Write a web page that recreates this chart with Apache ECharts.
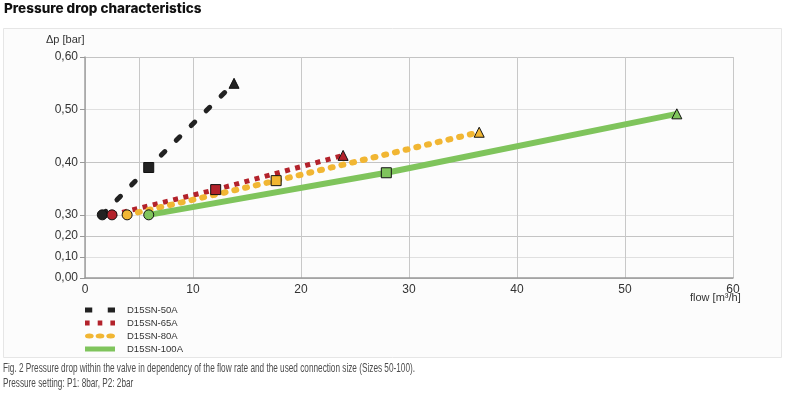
<!DOCTYPE html>
<html lang="en">

<head>
    <meta charset="UTF-8">
    <title>Pressure drop characteristics</title>
    <style>
        body { margin: 0; background: #fff; }
    </style>
</head>

<body>
    <div id="main" style="width: 800px; height:397px"></div>
    <script src="https://cdn.jsdelivr.net/npm/echarts@6/dist/echarts.min.js"></script>
    <script type="text/javascript">
        // data (flow in m3/h, dp in bar)
        var names = ['D15SN-50A', 'D15SN-65A', 'D15SN-80A', 'D15SN-100A'];
        var flow50 = [1.6, 5.9, 13.8];
        var dp50 = [0.30, 0.39, 0.55];
        var flow65 = [2.5, 12.1, 23.9];
        var dp65 = [0.30, 0.348, 0.413];
        var flow80 = [3.9, 17.7, 36.5];
        var dp80 = [0.30, 0.365, 0.457];
        var flow100 = [5.9, 27.9, 54.8];
        var dp100 = [0.30, 0.38, 0.492];
        var markers = ['circle', 'rect', 'triangle'];
        var yTicks = [0.00, 0.10, 0.20, 0.30, 0.40, 0.50, 0.60];
        var xTicks = [0, 10, 20, 30, 40, 50, 60];

        var FONT = '"Liberation Sans", Arial, sans-serif';

        // the y axis is broken: 0..0.30 squeezed to 40%
        var BREAK = 0.30, SQUEEZE = 0.4;
        function toAxis(v) {
            return v <= BREAK ? v * SQUEEZE : BREAK * SQUEEZE + (v - BREAK);
        }
        function fromAxis(d) {
            return d <= BREAK * SQUEEZE ? d / SQUEEZE : d - BREAK * SQUEEZE + BREAK;
        }

        function pts(xs, ys) {
            return xs.map(function (x, i) {
                return { value: [x, toAxis(ys[i])], symbol: markers[i] };
            });
        }

        var yTickPos = yTicks.map(function (v) { return +toAxis(v).toFixed(4); });
        // grid line colours: darker at labelled values
        var hColors = [];
        for (var k = 0; k <= 21; k++) {
            var major = yTickPos.some(function (p) { return Math.abs(p - k * 0.02) < 1e-6; });
            hColors.push(major ? '#c4c4c4' : '#e0e0e0');
        }
        var vColors = [];
        for (var j = 0; j <= 12; j++) {
            vColors.push(j % 2 === 0 || j === 1 ? '#c8c8c8' : 'rgba(0,0,0,0)');
        }

        // caption uses a narrow face; squeeze a normal one to the same width
        var capFont = '13px ' + FONT;
        var cap1 = 'Fig. 2 Pressure drop within the valve in dependency of the flow rate and the used connection size (Sizes 50-100).';
        var cap2 = 'Pressure setting: P1: 8bar, P2: 2bar';
        var ctx = document.createElement('canvas').getContext('2d');
        ctx.font = capFont;
        var capScale = 412 / ctx.measureText(cap1).width;

        var myChart = echarts.init(document.getElementById('main'));
        var mk = { borderColor: '#111', borderWidth: 1 };

        option = {
            animation: false,
            textStyle: { fontFamily: FONT },
            grid: { left: 85, right: 67, top: 57, bottom: 119 },
            graphic: {
                elements: [
                    { type: 'rect', z: -10, shape: { x: 3.5, y: 28.5, width: 778, height: 329 },
                      style: { fill: '#fcfcfc', stroke: '#e6e6e6', lineWidth: 1 } },
                    { type: 'text', left: 4, top: 2,
                      style: { text: 'Pressure drop characteristics', font: '800 13.5px Inter, "Open Sans", sans-serif', fill: '#111' } },
                    { type: 'text', left: 46, top: 34,
                      style: { text: '\u0394p [bar]', font: '11px ' + FONT, fill: '#333' } },
                    { type: 'text', left: 690, top: 292,
                      style: { text: 'flow [m\u00b3/h]', font: '11px ' + FONT, fill: '#333' } },
                    { type: 'text', x: 3, y: 362, scaleX: capScale,
                      style: { text: cap1, font: capFont, fill: '#4d4d4d' } },
                    { type: 'text', x: 3, y: 377, scaleX: capScale,
                      style: { text: cap2, font: capFont, fill: '#4d4d4d' } }
                ]
            },
            legend: {
                orient: 'vertical',
                left: 85,
                top: 305,
                padding: 0,
                itemWidth: 30,
                itemHeight: 5,
                itemGap: 3,
                symbolKeepAspect: false,
                textStyle: { fontSize: 9.5, color: '#333', padding: [0, 0, 0, 7], fontFamily: FONT },
                data: [
                    { name: names[0], icon: 'path://M0,0h7v5h-7z M22,0h7v5h-7z', itemStyle: { borderWidth: 0 } },
                    { name: names[1], icon: 'path://M0,0h4v4h-4z M11,0h4v4h-4z M22,0h4v4h-4z', itemStyle: { borderWidth: 0 } },
                    { name: names[2], icon: 'path://M0,3a4.5,3 0 1,0 9,0a4.5,3 0 1,0 -9,0z M11,3a4.5,3 0 1,0 9,0a4.5,3 0 1,0 -9,0z M22,3a4.5,3 0 1,0 9,0a4.5,3 0 1,0 -9,0z', itemStyle: { borderWidth: 0 } },
                    { name: names[3], icon: 'path://M0,0h30v5h-30z', itemStyle: { borderWidth: 0 } }
                ]
            },
            xAxis: {
                type: 'value',
                min: 0,
                max: 60,
                interval: 5,
                axisLine: { lineStyle: { color: '#999', width: 1.5 } },
                axisTick: { show: false },
                axisLabel: {
                    color: '#333', fontSize: 12, margin: 6, fontFamily: FONT,
                    customValues: xTicks
                },
                splitLine: { lineStyle: { color: vColors, width: 1 } }
            },
            yAxis: {
                type: 'value',
                min: 0,
                max: 0.42,
                interval: 0.02,
                axisLine: { show: true, lineStyle: { color: '#a0a0a0', width: 1.5 } },
                axisTick: { show: true, length: 5, lineStyle: { color: '#999' }, customValues: yTickPos },
                axisLabel: {
                    color: '#333', fontSize: 12, margin: 7, fontFamily: FONT,
                    customValues: yTickPos,
                    formatter: function (d) {
                        return fromAxis(d).toFixed(2).replace('.', ',');
                    }
                },
                splitLine: { lineStyle: { color: hColors, width: 1 } }
            },
            series: [{
                name: names[0],
                type: 'line',
                color: '#222222',
                data: pts(flow50, dp50),
                symbolSize: 10,
                itemStyle: mk,
                lineStyle: { width: 5, type: [5, 16], cap: 'round' }
            }, {
                name: names[1],
                type: 'line',
                color: '#b3222b',
                data: pts(flow65, dp65),
                symbolSize: 10,
                itemStyle: mk,
                lineStyle: { width: 5, type: [5, 5.5], cap: 'butt' }
            }, {
                name: names[2],
                type: 'line',
                color: '#f1b633',
                data: pts(flow80, dp80),
                symbolSize: 10,
                itemStyle: mk,
                lineStyle: { width: 6, type: [2, 9], cap: 'round' }
            }, {
                name: names[3],
                type: 'line',
                color: '#7fc45c',
                data: pts(flow100, dp100),
                symbolSize: 10,
                itemStyle: mk,
                lineStyle: { width: 6 }
            }]
        };
        myChart.setOption(option);
    </script>

</body>

</html>
